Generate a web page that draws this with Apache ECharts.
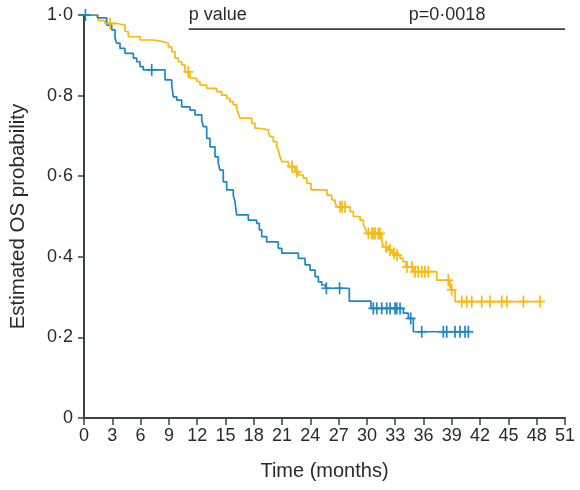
<!DOCTYPE html>
<html>
<head>
<meta charset="utf-8">
<script src="https://cdn.jsdelivr.net/npm/echarts@6/dist/echarts.min.js"></script>
<style>
  html, body { margin: 0; padding: 0; background: #fff; }
  #chart { width: 580px; height: 490px; }
</style>
</head>
<body>
<div id="chart"></div>
<script>
// Kaplan-Meier overall survival, two groups.
// Event times (months) and survival probability right after each event.
const yellowTimes = [0, 1.52, 2.23, 3.50, 4.35, 4.70, 5.94, 7.35, 8.41, 8.94, 9.30, 9.65, 10.00, 10.36, 10.71, 11.24, 11.95, 12.30, 13.01, 14.07, 14.60, 15.13, 15.48, 15.83, 16.19, 16.36, 16.54, 17.78, 18.13, 18.66, 19.54, 19.72, 20.07, 20.44, 20.60, 20.78, 20.97, 21.67, 22.38, 22.72, 23.25, 23.62, 24.07, 25.77, 26.27, 26.62, 26.83, 28.21, 28.56, 29.27, 29.62, 29.80, 30.01, 31.57, 31.74, 32.24, 32.66, 33.09, 33.51, 33.83, 34.15, 35.00, 37.40, 38.81, 38.92, 39.34];
const yellowSurv = [1, 0.986, 0.979, 0.975, 0.959, 0.946, 0.938, 0.934, 0.930, 0.921, 0.909, 0.893, 0.884, 0.876, 0.859, 0.843, 0.835, 0.826, 0.818, 0.810, 0.801, 0.793, 0.785, 0.777, 0.768, 0.756, 0.744, 0.731, 0.719, 0.715, 0.710, 0.698, 0.686, 0.673, 0.665, 0.648, 0.636, 0.624, 0.611, 0.603, 0.595, 0.582, 0.566, 0.553, 0.541, 0.533, 0.524, 0.512, 0.500, 0.491, 0.479, 0.471, 0.458, 0.442, 0.425, 0.417, 0.409, 0.404, 0.396, 0.388, 0.375, 0.363, 0.342, 0.326, 0.318, 0.289];
const yellowCensored = [2.76, 11.06, 22.06, 22.56, 27.15, 27.36, 27.68, 30.15, 30.51, 30.68, 30.86, 31.21, 31.39, 32.03, 32.45, 32.87, 33.19, 34.25, 34.78, 35.10, 35.45, 35.81, 36.16, 36.51, 38.63, 38.99, 40.05, 40.58, 41.11, 42.17, 43.05, 44.29, 44.83, 46.59, 48.36];

const blueTimes = [0, 1.41, 2.41, 2.94, 3.29, 3.47, 3.82, 4.35, 5.23, 5.59, 5.94, 6.29, 8.59, 9.30, 9.47, 9.83, 10.36, 11.24, 11.77, 12.48, 12.65, 13.01, 13.36, 13.89, 14.24, 14.42, 14.77, 15.13, 15.83, 16.01, 16.19, 17.42, 18.31, 18.59, 18.84, 19.37, 20.60, 20.97, 22.73, 23.44, 23.97, 24.50, 24.85, 25.21, 25.60, 28.13, 30.43, 33.86, 34.39, 34.92];
const blueSurv = [1, 0.993, 0.975, 0.963, 0.942, 0.930, 0.917, 0.905, 0.893, 0.884, 0.872, 0.864, 0.839, 0.826, 0.797, 0.789, 0.772, 0.764, 0.752, 0.739, 0.723, 0.694, 0.673, 0.648, 0.632, 0.615, 0.586, 0.566, 0.552, 0.537, 0.504, 0.491, 0.483, 0.467, 0.450, 0.437, 0.421, 0.409, 0.396, 0.380, 0.367, 0.351, 0.338, 0.330, 0.322, 0.290, 0.272, 0.260, 0.247, 0.214];
const blueCensored = [0.15, 7.18, 25.70, 27.10, 30.68, 31.04, 31.57, 32.10, 32.45, 32.98, 33.16, 33.51, 34.64, 35.81, 38.10, 38.46, 39.34, 39.87, 40.40, 40.75];

// Axis ticks
const xTicks = [0, 3, 6, 9, 12, 15, 18, 21, 24, 27, 30, 33, 36, 39, 42, 45, 48, 51];
const yTicks = [0, 0.2, 0.4, 0.6, 0.8, 1.0];

// Log-rank annotation
const pBarFrom = 11.1, pBarTo = 51, pBarLevel = 0.965;
const pLabel = 'p value', pText = 'p=0·0018', pTextAt = 38.5;

const YELLOW = '#f9b812';
const BLUE = '#1e86c8';
const AXIS = '#3c4244';
const TEXT = '#2a2a2a';
const FONT = '"Liberation Sans", Arial, Helvetica, sans-serif';

// Survival value in effect at time t (right-continuous step function)
function survAt(times, surv, t) {
  let s = surv[0];
  for (let i = 0; i < times.length; i++) {
    if (times[i] <= t) s = surv[i]; else break;
  }
  return s;
}

function stepData(times, surv, censored) {
  const pts = times.map((t, i) => [t, surv[i]]);
  const lastC = censored[censored.length - 1];
  const lastT = times[times.length - 1];
  if (lastC > lastT) pts.push([lastC, surv[surv.length - 1]]);
  return pts;
}

function censorData(times, surv, censored) {
  return censored.map(t => [t, survAt(times, surv, t)]);
}

function crossSeries(data, color) {
  return {
    type: 'custom',
    data: data,
    z: 3,
    silent: true,
    renderItem: function (params, api) {
      const p = api.coord([api.value(0), api.value(1)]);
      const st = { stroke: color, lineWidth: 1.7 };
      return {
        type: 'group',
        children: [
          { type: 'line', shape: { x1: p[0], y1: p[1] - 6, x2: p[0], y2: p[1] + 6 }, style: st },
          { type: 'line', shape: { x1: p[0] - 5, y1: p[1], x2: p[0] + 5, y2: p[1] }, style: st }
        ]
      };
    }
  };
}

const fmtY = v => (v === 0 ? '0' : v.toFixed(1).replace('.', '·'));

const chart = echarts.init(document.getElementById('chart'), null, { renderer: 'canvas' });

chart.setOption({
  animation: false,
  backgroundColor: '#ffffff',
  textStyle: { fontFamily: FONT },
  grid: { left: 84, right: 15, top: 15, bottom: 72 },
  xAxis: {
    type: 'value',
    min: xTicks[0], max: xTicks[xTicks.length - 1], interval: 3,
    name: 'Time (months)',
    nameLocation: 'middle',
    nameGap: 43,
    nameTextStyle: { fontSize: 20, color: TEXT, fontFamily: FONT },
    splitLine: { show: false },
    axisLine: { lineStyle: { color: AXIS, width: 2 } },
    axisTick: { length: 7, lineStyle: { color: AXIS, width: 1.5 } },
    axisLabel: { fontSize: 18, color: TEXT, margin: 9, fontFamily: FONT }
  },
  yAxis: {
    type: 'value',
    min: yTicks[0], max: yTicks[yTicks.length - 1], interval: 0.2,
    name: 'Estimated OS probability',
    nameLocation: 'middle',
    nameGap: 55,
    nameRotate: 90,
    nameTextStyle: { fontSize: 20.5, color: TEXT, fontFamily: FONT },
    splitLine: { show: false },
    axisLine: { show: true, lineStyle: { color: AXIS, width: 2 } },
    axisTick: { show: true, length: 6, lineStyle: { color: AXIS, width: 1.5 } },
    axisLabel: { fontSize: 18, color: TEXT, margin: 11, formatter: fmtY, fontFamily: FONT }
  },
  series: [
    {
      type: 'line', step: 'end', symbol: 'none', z: 2,
      data: stepData(yellowTimes, yellowSurv, yellowCensored),
      lineStyle: { color: YELLOW, width: 1.7 }
    },
    {
      type: 'line', step: 'end', symbol: 'none', z: 2,
      data: stepData(blueTimes, blueSurv, blueCensored),
      lineStyle: { color: BLUE, width: 1.7 }
    },
    crossSeries(censorData(yellowTimes, yellowSurv, yellowCensored), YELLOW),
    crossSeries(censorData(blueTimes, blueSurv, blueCensored), BLUE),
    {
      type: 'custom',
      silent: true,
      z: 4,
      data: [[pBarFrom, pBarTo, pBarLevel, pTextAt]],
      renderItem: function (params, api) {
        const a = api.coord([api.value(0), api.value(2)]);
        const b = api.coord([api.value(1), api.value(2)]);
        const c = api.coord([api.value(3), api.value(2)]);
        const ts = { fill: TEXT, fontSize: 18, fontFamily: FONT, textVerticalAlign: 'bottom' };
        return {
          type: 'group',
          children: [
            { type: 'line', shape: { x1: a[0], y1: a[1], x2: b[0], y2: b[1] }, style: { stroke: AXIS, lineWidth: 1.7 } },
            { type: 'text', x: a[0], y: a[1] - 5, style: Object.assign({ text: pLabel, textAlign: 'left' }, ts) },
            { type: 'text', x: c[0], y: c[1] - 5, style: Object.assign({ text: pText, textAlign: 'center' }, ts) }
          ]
        };
      }
    }
  ]
});
</script>
</body>
</html>
